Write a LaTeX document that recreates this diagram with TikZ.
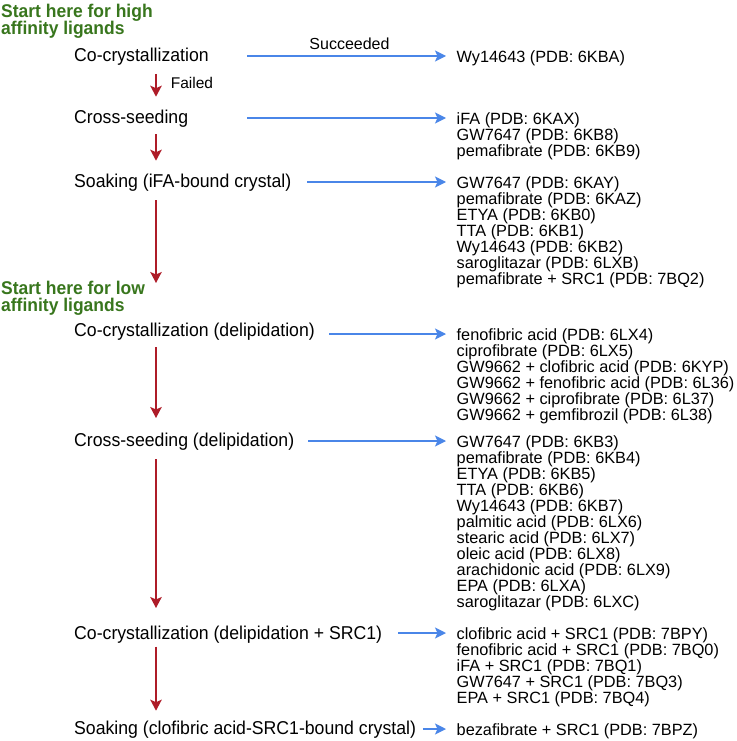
\documentclass[tikz,border=0pt]{standalone}
\usepackage{fontspec}
\setmainfont{Liberation Sans}
\newfontfamily\stepfont[FakeStretch=0.95]{Liberation Sans}
\usetikzlibrary{arrows.meta,calc}
\definecolor{gtitle}{HTML}{38761D}
\definecolor{rflow}{HTML}{AE1C28}
\definecolor{bflow}{HTML}{4A86E8}
\newcommand\mytightlines{\lineskiplimit=-20pt\relax\lineskip=0pt\relax}
\begin{document}
\begin{tikzpicture}[x=1pt,y=-1pt,
  stepnode/.style={font=\stepfont\fontsize{18.6}{20}\selectfont, inner sep=0, anchor=base west},
  titlenode/.style={font=\stepfont\bfseries\fontsize{18.4}{17}\selectfont\mytightlines, text=gtitle, inner sep=0, anchor=north west, align=left},
  listnode/.style={font=\fontsize{16.3}{16}\selectfont\mytightlines, inner sep=0, anchor=north west, align=left},
  rarrow/.style={draw=rflow, line width=1.7pt, -{Stealth[length=11pt,width=11.5pt,inset=2.5pt]}},
  barrow/.style={draw=bflow, line width=1.4pt, -{Stealth[length=11pt,width=11pt,inset=2.5pt]}},
  smalllabel/.style={font=\fontsize{16}{18}\selectfont, inner sep=0}
]
\useasboundingbox (0,0) rectangle (736,741);

% titles
\node[titlenode] (g1) at (1,3.8) {Start here for high\\affinity ligands};
\node[titlenode] (g2) at (1,281.2) {Start here for low\\affinity ligands};

% steps
\node[stepnode] (s1) at (74,61.5) {Co-crystallization};
\node[stepnode] (s2) at (74,123.3) {Cross-seeding};
\node[stepnode] (s3) at (74,187.8) {Soaking (iFA-bound crystal)};
\node[stepnode] (s4) at (74,336.8) {Co-crystallization (delipidation)};
\node[stepnode] (s5) at (74,446.6) {Cross-seeding (delipidation)};
\node[stepnode] (s6) at (74,639.5) {Co-crystallization (delipidation + SRC1)};
\node[stepnode] (s7) at (74,734.8) {Soaking (clofibric acid-SRC1-bound crystal)};

% lists
\node[listnode] (l1) at (456.5,50) {Wy14643 (PDB: 6KBA)};
\node[listnode] (l2) at (456.5,112) {iFA (PDB: 6KAX)\\GW7647 (PDB: 6KB8)\\pemafibrate (PDB: 6KB9)};
\node[listnode] (l3) at (456.5,176) {GW7647 (PDB: 6KAY)\\pemafibrate (PDB: 6KAZ)\\ETYA (PDB: 6KB0)\\TTA (PDB: 6KB1)\\Wy14643 (PDB: 6KB2)\\saroglitazar (PDB: 6LXB)\\pemafibrate + SRC1 (PDB: 7BQ2)};
\node[listnode] (l4) at (456.5,328) {fenofibric acid (PDB: 6LX4)\\ciprofibrate (PDB: 6LX5)\\GW9662 + clofibric acid (PDB: 6KYP)\\GW9662 + fenofibric acid (PDB: 6L36)\\GW9662 + ciprofibrate (PDB: 6L37)\\GW9662 + gemfibrozil (PDB: 6L38)};
\node[listnode] (l5) at (456.5,435) {GW7647 (PDB: 6KB3)\\pemafibrate (PDB: 6KB4)\\ETYA (PDB: 6KB5)\\TTA (PDB: 6KB6)\\Wy14643 (PDB: 6KB7)\\palmitic acid (PDB: 6LX6)\\stearic acid (PDB: 6LX7)\\oleic acid (PDB: 6LX8)\\arachidonic acid (PDB: 6LX9)\\EPA (PDB: 6LXA)\\saroglitazar (PDB: 6LXC)};
\node[listnode] (l6) at (456.5,627) {clofibric acid + SRC1 (PDB: 7BPY)\\fenofibric acid + SRC1 (PDB: 7BQ0)\\iFA + SRC1 (PDB: 7BQ1)\\GW7647 + SRC1 (PDB: 7BQ3)\\EPA + SRC1 (PDB: 7BQ4)};
\node[listnode] (l7) at (456.5,723) {bezafibrate + SRC1 (PDB: 7BPZ)};

% arrow end points
\foreach \i in {1,...,7}{\coordinate (e\i) at ([xshift=-10.5pt,yshift=-6pt]l\i.north west);}
\coordinate (fork) at (247,0);
\coordinate (col) at (156,0);

% blue arrows
\draw[barrow] (fork |- e1) -- (e1) node[pos=0.515, anchor=base, yshift=6.4pt, smalllabel] {Succeeded};
\draw[barrow] (fork |- e2) -- (e2);
\draw[barrow] ($(s3.east |- e3)+(16,0)$) -- (e3);
\draw[barrow] ($(s4.east |- e4)+(14,0)$) -- (e4);
\draw[barrow] ($(s5.east |- e5)+(14,0)$) -- (e5);
\draw[barrow] ($(s6.east |- e6)+(16,0)$) -- (e6);
\draw[barrow] ($(s7.east |- e7)+(6.7,0)$) -- (e7);

% red arrows
\draw[rarrow] ($(col |- s1.base)+(0,12.5)$) -- ($(col |- s2.base)+(0,-26.6)$)
  node[midway, anchor=base west, xshift=14pt, yshift=-3.65pt, smalllabel, font=\fontsize{15.5}{18}\selectfont] {Failed};
\draw[rarrow] ($(col |- s2.base)+(0,10.7)$) -- ($(col |- s3.base)+(0,-27.1)$);
\draw[rarrow] ($(col |- s3.base)+(0,12.2)$) -- ($(col |- s4.base)+(0,-53.8)$);
\draw[rarrow] ($(col |- s4.base)+(0,10.2)$) -- ($(col |- s5.base)+(0,-28.6)$);
\draw[rarrow] ($(col |- s5.base)+(0,12.4)$) -- ($(col |- s6.base)+(0,-31.5)$);
\draw[rarrow] ($(col |- s6.base)+(0,7.2)$) -- ($(col |- s7.base)+(0,-24.1)$);
\end{tikzpicture}
\end{document}
